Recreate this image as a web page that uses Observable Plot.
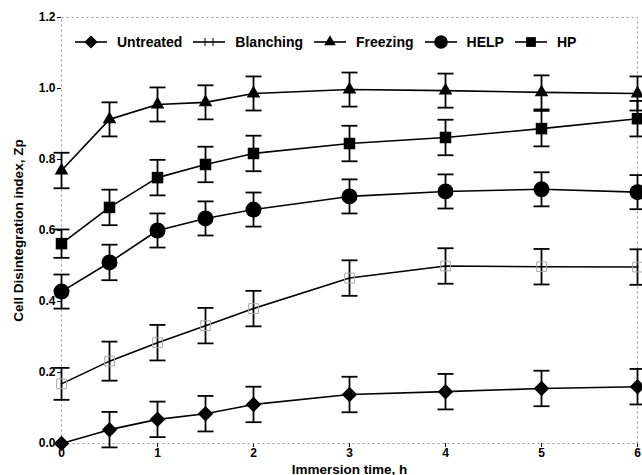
<!DOCTYPE html>
<html>
<head>
<meta charset="utf-8">
<script src="https://cdn.jsdelivr.net/npm/d3@7"></script>
<script src="https://cdn.jsdelivr.net/npm/@observablehq/plot@0.6"></script>
<style>
  html, body { margin: 0; padding: 0; background: #fff; }
  #wrap { position: relative; width: 642px; height: 475px; font-family: "Liberation Sans", Arial, sans-serif; }
  #legend { position: absolute; left: 75px; top: 34px; display: flex; align-items: center; font-weight: bold; font-size: 14px; color: #000; }
  #legend .item { display: flex; align-items: center; margin-right: 11px; }
  #legend svg { margin-right: 10px; overflow: visible; }
  #wrap svg [aria-label="y-axis label"] text,
  #wrap svg [aria-label="x-axis label"] text { font-size: 13.5px; }
</style>
</head>
<body>
<div id="wrap"><div id="legend"></div></div>
<script>
// Immersion times (h) and cell disintegration index Zp per pretreatment
const hours = [0, 0.5, 1, 1.5, 2, 3, 4, 5, 6];

const untreated    = [0.000, 0.039, 0.068, 0.084, 0.110, 0.138, 0.146, 0.155, 0.160];
const untreatedErr = [0.000, 0.050, 0.050, 0.050, 0.050, 0.050, 0.050, 0.050, 0.050];

const blanching    = [0.168, 0.232, 0.284, 0.332, 0.380, 0.466, 0.500, 0.498, 0.497];
const blanchingErr = [0.045, 0.055, 0.050, 0.050, 0.050, 0.050, 0.050, 0.050, 0.050];

const freezing     = [0.769, 0.913, 0.955, 0.961, 0.986, 0.997, 0.994, 0.989, 0.986];
const freezingErr  = [0.050, 0.048, 0.048, 0.048, 0.048, 0.048, 0.048, 0.048, 0.048];

const help         = [0.428, 0.510, 0.600, 0.634, 0.659, 0.696, 0.710, 0.716, 0.708];
const helpErr      = [0.048, 0.050, 0.048, 0.048, 0.048, 0.048, 0.048, 0.048, 0.048];

const hp           = [0.563, 0.665, 0.749, 0.786, 0.817, 0.845, 0.862, 0.887, 0.915];
const hpErr        = [0.040, 0.050, 0.050, 0.050, 0.050, 0.050, 0.050, 0.050, 0.050];

const seriesNames = ["Untreated", "Blanching", "Freezing", "HELP", "HP"];
const yTicks = [0, 0.2, 0.4, 0.6, 0.8, 1.0, 1.2];
const xTicks = [0, 1, 2, 3, 4, 5, 6];

const seriesValues = {
  Untreated: [untreated, untreatedErr],
  Blanching: [blanching, blanchingErr],
  Freezing: [freezing, freezingErr],
  HELP: [help, helpErr],
  HP: [hp, hpErr]
};

// Long-format table built from the arrays above
const rows = seriesNames.flatMap(name =>
  hours.map((h, i) => ({
    series: name,
    time: h,
    zp: seriesValues[name][0][i],
    lo: seriesValues[name][0][i] - seriesValues[name][1][i],
    hi: seriesValues[name][0][i] + seriesValues[name][1][i]
  }))
);
const withErr = rows.filter(d => d.hi > d.lo);

// Horizontal cap used at both ends of each error bar
const capSymbol = {
  draw(context, size) {
    const r = Math.sqrt(size / Math.PI);
    context.moveTo(-r, 0);
    context.lineTo(r, 0);
  }
};

const markerStyle = {
  Untreated: {symbol: "diamond2", r: 7, fill: "#000", stroke: "none"},
  Blanching: {symbol: "square", r: 5.5, fill: "none", stroke: "#aaa"},
  Freezing:  {symbol: "triangle2", r: 6.5, fill: "#000", stroke: "none"},
  HELP:      {symbol: "circle", r: 8, fill: "#000", stroke: "none"},
  HP:        {symbol: "square", r: 6.5, fill: "#000", stroke: "none"}
};

const chart = Plot.plot({
  width: 642,
  height: 475,
  marginLeft: 61,
  marginRight: 5,
  marginTop: 17,
  marginBottom: 32,
  style: {fontFamily: "'Liberation Sans', Arial, sans-serif", fontSize: "12px", fontWeight: "bold", color: "#000", background: "#fff"},
  x: {domain: [0, 6], ticks: xTicks, tickSize: 4, tickPadding: 1, tickFormat: d3.format("d"), label: "Immersion time, h", labelAnchor: "center", labelOffset: 30, labelArrow: "none"},
  y: {domain: [0, 1.2], ticks: yTicks, tickSize: 4, tickPadding: 2, tickFormat: d3.format(".1f"), label: "Cell Disintegration index, Zp", labelAnchor: "center", labelOffset: 48, labelArrow: "none"},
  marks: [
    Plot.frame({stroke: "#999", strokeDasharray: "2,3", strokeWidth: 1}),
    Plot.ruleX(withErr, {x: "time", y1: "lo", y2: "hi", stroke: "#000", strokeWidth: 1.8}),
    Plot.dot(withErr, {x: "time", y: "lo", symbol: capSymbol, r: 8, stroke: "#000", strokeWidth: 1.8}),
    Plot.dot(withErr, {x: "time", y: "hi", symbol: capSymbol, r: 8, stroke: "#000", strokeWidth: 1.8}),
    Plot.line(rows, {x: "time", y: "zp", z: "series", stroke: "#000", strokeWidth: 1.6}),
    ...seriesNames.map(name =>
      Plot.dot(rows.filter(d => d.series === name), {
        x: "time", y: "zp",
        symbol: markerStyle[name].symbol,
        r: markerStyle[name].r,
        fill: markerStyle[name].fill,
        stroke: markerStyle[name].stroke,
        strokeWidth: 1
      })
    )
  ]
});
document.getElementById("wrap").prepend(chart);

// Legend row drawn inside the plot area
const legend = d3.select("#legend");
const symbolTypes = {diamond2: d3.symbolDiamond2, square: d3.symbolSquare, triangle2: d3.symbolTriangle2, circle: d3.symbolCircle};
for (const name of seriesNames) {
  const item = legend.append("div").attr("class", "item");
  const svg = item.append("svg").attr("width", 32).attr("height", 16);
  const g = svg.append("g").attr("transform", "translate(0,8)");
  g.append("line").attr("x1", 0).attr("x2", 32).attr("stroke", "#000").attr("stroke-width", 1.6);
  if (name === "Blanching") {
    for (const dx of [12, 20]) {
      g.append("line").attr("x1", dx).attr("x2", dx).attr("y1", -4).attr("y2", 4).attr("stroke", "#000").attr("stroke-width", 1);
    }
  } else {
    const st = markerStyle[name];
    const size = Math.PI * (st.r * 0.85) ** 2;
    g.append("path")
      .attr("transform", "translate(16,0)")
      .attr("d", d3.symbol(symbolTypes[st.symbol], size)())
      .attr("fill", "#000");
  }
  item.append("span").text(name);
}
</script>
</body>
</html>
